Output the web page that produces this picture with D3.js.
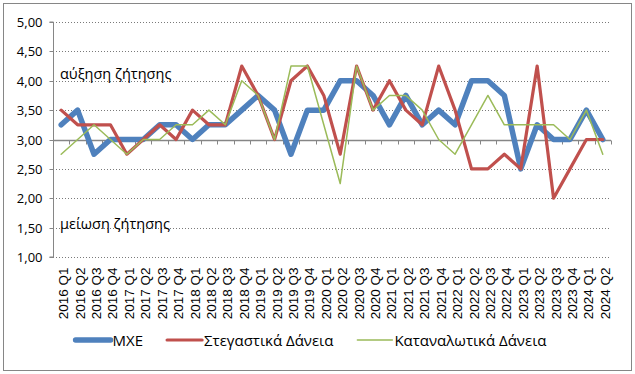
<!DOCTYPE html>
<html><head><meta charset="utf-8">
<script src="https://cdn.jsdelivr.net/npm/d3@7"></script>
<style>
html,body{margin:0;padding:0;background:#fff;}
svg{display:block;}
</style></head>
<body>
<svg id="chart" width="635" height="374"></svg>
<script>
const categories = ["2016 Q1","2016 Q2","2016 Q3","2016 Q4","2017 Q1","2017 Q2","2017 Q3","2017 Q4",
"2018 Q1","2018 Q2","2018 Q3","2018 Q4","2019 Q1","2019 Q2","2019 Q3","2019 Q4",
"2020 Q1","2020 Q2","2020 Q3","2020 Q4","2021 Q1","2021 Q2","2021 Q3","2021 Q4",
"2022 Q1","2022 Q2","2022 Q3","2022 Q4","2023 Q1","2023 Q2","2023 Q3","2023 Q4","2024 Q1","2024 Q2"];
const mxe = [3.25,3.5,2.75,3.0,3.0,3.0,3.25,3.25,3.0,3.25,3.25,3.5,3.75,3.5,2.75,3.5,3.5,4.0,4.0,3.75,3.25,3.75,3.25,3.5,3.25,4.0,4.0,3.75,2.5,3.25,3.0,3.0,3.5,3.0];
const housing = [3.5,3.25,3.25,3.25,2.75,3.0,3.25,3.0,3.5,3.25,3.25,4.25,3.75,3.0,4.0,4.25,3.75,2.75,4.25,3.5,4.0,3.5,3.25,4.25,3.5,2.5,2.5,2.75,2.5,4.25,2.0,2.5,3.0,3.0];
const consumer = [2.75,3.0,3.25,3.0,2.75,3.0,3.0,3.25,3.25,3.5,3.25,4.0,3.75,3.0,4.25,4.25,3.25,2.25,4.25,3.5,3.75,3.75,3.5,3.0,2.75,3.25,3.75,3.25,3.25,3.25,3.25,3.0,3.5,2.75];
const seriesNames = ["ΜΧΕ","Στεγαστικά Δάνεια","Καταναλωτικά Δάνεια"];
const yTicks = [1.0,1.5,2.0,2.5,3.0,3.5,4.0,4.5,5.0];
const annotations = ["αύξηση ζήτησης","μείωση ζήτησης"];

const svg = d3.select("#chart");
const plot = {left:53, right:611, top:22, bottom:257};
const fmt = v => d3.format(".2f")(v).replace(".", ",");

// outer border
svg.append("rect").attr("x",3.5).attr("y",3.5).attr("width",628).attr("height",367)
  .attr("fill","#fff").attr("stroke","#868686").attr("stroke-width",1);

const x = d3.scaleBand().domain(categories).range([plot.left, plot.right]).padding(0);
const y = d3.scaleLinear().domain([1,5]).range([plot.bottom, plot.top]);

// gridlines
svg.append("g").selectAll("line").data(yTicks.filter(v => v !== 3.0)).join("line")
  .attr("x1", plot.left).attr("x2", plot.right)
  .attr("y1", d => Math.round(y(d))+0.5).attr("y2", d => Math.round(y(d))+0.5)
  .attr("stroke","#7a7a7a").attr("stroke-width",1).attr("stroke-dasharray","1 2");

// y axis
const yAxis = d3.axisLeft(y).tickValues(yTicks).tickFormat(fmt).tickSize(4).tickPadding(4);
const gy = svg.append("g").attr("transform",`translate(${plot.left+0.5},0)`).call(yAxis);
gy.select(".domain").attr("stroke","#868686").attr("d",`M-4,${plot.top}H0V${plot.bottom}H-4`);
gy.selectAll(".tick line").attr("stroke","#868686");
gy.selectAll(".tick").attr("transform", d => `translate(0,${Math.round(y(d))+0.5})`);
gy.selectAll(".tick text").attr("font-family","'Open Sans', sans-serif").attr("font-size","13px").attr("fill","#000").attr("x",-11);

// x axis line at 3.0 with boundary ticks
const y3 = Math.round(y(3.0))+0.5;
svg.append("line").attr("x1",plot.left).attr("x2",plot.right).attr("y1",y3).attr("y2",y3)
  .attr("stroke","#868686").attr("stroke-width",1.3);
const bounds = categories.map(c => x(c)).concat([plot.right]);
svg.append("g").selectAll("line").data(bounds.slice(1)).join("line")
  .attr("x1", d => Math.round(d)+0.5).attr("x2", d => Math.round(d)+0.5)
  .attr("y1", y3).attr("y2", y3+4).attr("stroke","#868686");

// x labels at bottom
svg.append("g").selectAll("text").data(categories).join("text")
  .attr("transform", d => `translate(${x(d)+x.bandwidth()/2+7},${plot.bottom+10.5}) rotate(-90)`)
  .attr("text-anchor","end")
  .attr("font-family","'Liberation Sans', Arial, sans-serif").attr("font-size","13.5px").attr("fill","#000")
  .text(d => d);

// annotations
svg.append("text").attr("x",60).attr("y",79).attr("font-family","'Open Sans', sans-serif").attr("font-size","14.5px").attr("fill","#000").text(annotations[0]);
svg.append("text").attr("x",60).attr("y",229).attr("font-family","'Open Sans', sans-serif").attr("font-size","14.5px").attr("fill","#000").text(annotations[1]);

// series
const series = [
  {name: seriesNames[0], values: mxe, color:"#4F81BD", width:5.5},
  {name: seriesNames[1], values: housing, color:"#C0504D", width:3.2},
  {name: seriesNames[2], values: consumer, color:"#9BBB59", width:1.5}
];
const line = d3.line().x((d,i) => x(categories[i]) + x.bandwidth()/2).y(d => y(d));
svg.append("g").selectAll("path").data(series).join("path")
  .attr("d", d => line(d.values)).attr("fill","none")
  .attr("stroke", d => d.color).attr("stroke-width", d => d.width)
  .attr("stroke-linejoin","round").attr("stroke-linecap","round");

// legend
const lg = svg.append("g");
const legY = 340;
const items = [];
series.forEach((s,i) => {
  const g = lg.append("g");
  g.append("line").attr("x1",0).attr("x2",35).attr("y1",0).attr("y2",0)
    .attr("stroke",s.color).attr("stroke-width",s.width).attr("stroke-linecap","round");
  const t = g.append("text").attr("x",37).attr("y",5.5).attr("font-family","'Open Sans', sans-serif")
    .attr("font-size","15px").attr("fill","#000").text(s.name);
  const w = 37 + t.node().getComputedTextLength();
  items.push({g, w});
});
const gap = 24;
const total = d3.sum(items, d => d.w) + gap*(items.length-1);
let start = 311 - total/2;
items.forEach(it => { it.g.attr("transform",`translate(${start},${legY})`); start += it.w + gap; });
</script>
</body></html>
